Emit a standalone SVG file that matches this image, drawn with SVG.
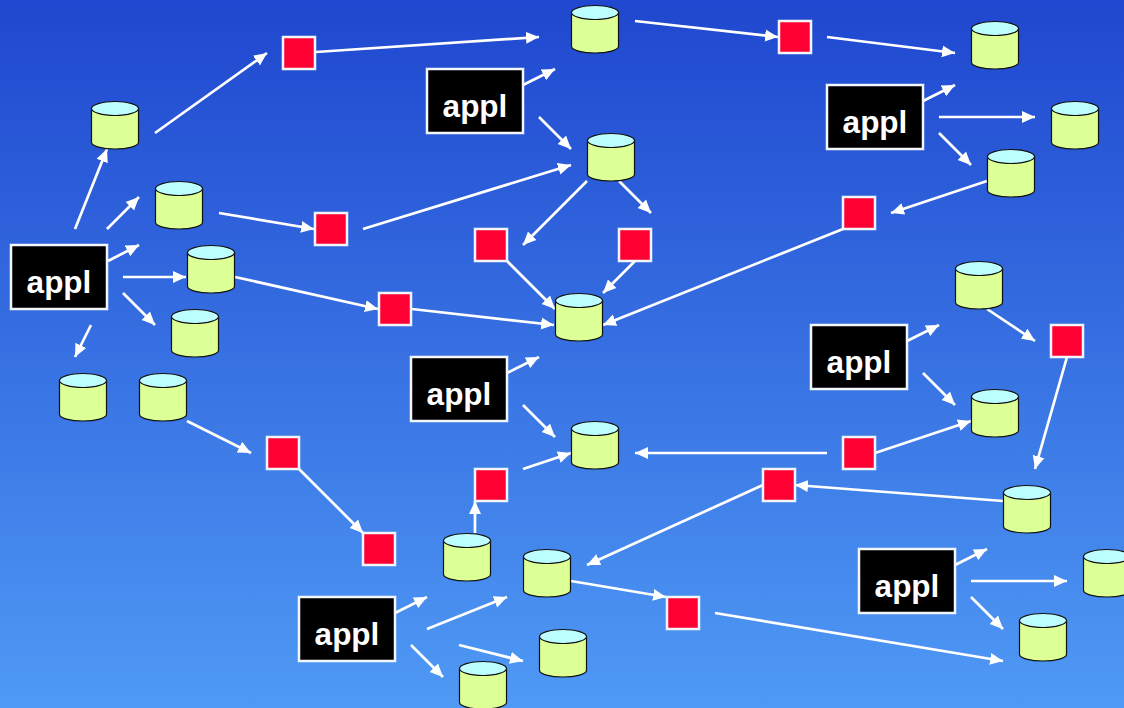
<svg xmlns="http://www.w3.org/2000/svg" width="1124" height="708" viewBox="0 0 1124 708">
<style>
.c line{stroke:#fff;stroke-width:2.7;marker-end:url(#a)}
.s{fill:#ff0033;stroke:#f4f6ff;stroke-width:2.5}
.b{fill:#000;stroke:#f4f6ff;stroke-width:2.5}
.t{fill:#fff;font:bold 31.500px "Liberation Sans",Arial,sans-serif;text-anchor:middle}
.cb{fill:#dcff96;stroke:#111;stroke-width:1.2}
.ct{fill:#bdffff;stroke:#111;stroke-width:1.2}
</style>
<defs>
<linearGradient id="g" x1="0" y1="0" x2="0" y2="1"><stop offset="0" stop-color="#1f47cf"/><stop offset="1" stop-color="#4f9af5"/></linearGradient>
<marker id="a" markerUnits="userSpaceOnUse" markerWidth="14" markerHeight="14" refX="13" refY="7" orient="auto"><path d="M0 1L13 7L0 13z" fill="#fff"/></marker>
<symbol id="cy" width="50" height="50" overflow="visible">
<path class="cb" d="M.5 7.500V41.500C.5 45 11 48 24 48S47.500 45 47.500 41.500V7.500z"/>
<ellipse class="ct" cx="24" cy="7.500" rx="23.500" ry="7"/>
</symbol>
</defs>
<rect width="1124" height="708" fill="url(#g)"/>
<g id="connectors" class="c">
<line x1="75" y1="229" x2="107" y2="149"/>
<line x1="107" y1="229" x2="139" y2="197"/>
<line x1="108" y1="261" x2="139" y2="245"/>
<line x1="123" y1="277" x2="186" y2="277"/>
<line x1="123" y1="293" x2="155" y2="325"/>
<line x1="91" y1="325" x2="75" y2="357"/>
<line x1="155" y1="133" x2="267" y2="53"/>
<line x1="316" y1="52" x2="539" y2="37"/>
<line x1="219" y1="213" x2="314" y2="229"/>
<line x1="363" y1="229" x2="571" y2="165"/>
<line x1="235" y1="277" x2="378" y2="309"/>
<line x1="412" y1="309" x2="554" y2="325"/>
<line x1="187" y1="421" x2="251" y2="453"/>
<line x1="299" y1="469" x2="363" y2="533"/>
<line x1="523" y1="85" x2="555" y2="69"/>
<line x1="539" y1="117" x2="571" y2="149"/>
<line x1="587" y1="181" x2="523" y2="245"/>
<line x1="619" y1="181" x2="651" y2="213"/>
<line x1="507" y1="261" x2="555" y2="309"/>
<line x1="635" y1="261" x2="603" y2="293"/>
<line x1="635" y1="21" x2="778" y2="37"/>
<line x1="827" y1="37" x2="955" y2="53"/>
<line x1="923" y1="101" x2="955" y2="85"/>
<line x1="939" y1="117" x2="1035" y2="117"/>
<line x1="939" y1="133" x2="971" y2="165"/>
<line x1="987" y1="181" x2="891" y2="213"/>
<line x1="843" y1="229" x2="603" y2="325"/>
<line x1="507" y1="373" x2="539" y2="357"/>
<line x1="523" y1="405" x2="555" y2="437"/>
<line x1="907" y1="341" x2="939" y2="325"/>
<line x1="923" y1="373" x2="955" y2="405"/>
<line x1="987" y1="309" x2="1035" y2="341"/>
<line x1="1067" y1="357" x2="1035" y2="469"/>
<line x1="875" y1="453" x2="971" y2="421"/>
<line x1="827" y1="453" x2="635" y2="453"/>
<line x1="1003" y1="501" x2="795" y2="485"/>
<line x1="763" y1="485" x2="587" y2="565"/>
<line x1="523" y1="469" x2="571" y2="453"/>
<line x1="475" y1="533" x2="475" y2="501"/>
<line x1="395" y1="613" x2="427" y2="597"/>
<line x1="427" y1="629" x2="507" y2="597"/>
<line x1="459" y1="645" x2="523" y2="661"/>
<line x1="411" y1="645" x2="443" y2="677"/>
<line x1="571" y1="581" x2="666" y2="597"/>
<line x1="715" y1="613" x2="1003" y2="661"/>
<line x1="955" y1="565" x2="987" y2="549"/>
<line x1="971" y1="581" x2="1067" y2="581"/>
<line x1="971" y1="597" x2="1003" y2="629"/>
</g>
<g id="db1"><use href="#cy" x="91" y="101"/></g>
<g id="db2"><use href="#cy" x="155" y="181"/></g>
<g id="db3"><use href="#cy" x="187" y="245"/></g>
<g id="db4"><use href="#cy" x="171" y="309"/></g>
<g id="db5"><use href="#cy" x="59" y="373"/></g>
<g id="db6"><use href="#cy" x="139" y="373"/></g>
<g id="db7"><use href="#cy" x="571" y="5"/></g>
<g id="db8"><use href="#cy" x="971" y="21"/></g>
<g id="db9"><use href="#cy" x="1051" y="101"/></g>
<g id="db10"><use href="#cy" x="987" y="149"/></g>
<g id="db11"><use href="#cy" x="587" y="133"/></g>
<g id="db12"><use href="#cy" x="555" y="293"/></g>
<g id="db13"><use href="#cy" x="955" y="261"/></g>
<g id="db14"><use href="#cy" x="971" y="389"/></g>
<g id="db15"><use href="#cy" x="571" y="421"/></g>
<g id="db16"><use href="#cy" x="1003" y="485"/></g>
<g id="db17"><use href="#cy" x="443" y="533"/></g>
<g id="db18"><use href="#cy" x="523" y="549"/></g>
<g id="db19"><use href="#cy" x="1083" y="549"/></g>
<g id="db20"><use href="#cy" x="1019" y="613"/></g>
<g id="db21"><use href="#cy" x="539" y="629"/></g>
<g id="db22"><use href="#cy" x="459" y="661"/></g>
<g id="r1"><rect class="s" x="283" y="37" width="32" height="32"/></g>
<g id="r2"><rect class="s" x="779" y="21" width="32" height="32"/></g>
<g id="r3"><rect class="s" x="315" y="213" width="32" height="32"/></g>
<g id="r4"><rect class="s" x="475" y="229" width="32" height="32"/></g>
<g id="r5"><rect class="s" x="619" y="229" width="32" height="32"/></g>
<g id="r6"><rect class="s" x="843" y="197" width="32" height="32"/></g>
<g id="r7"><rect class="s" x="379" y="293" width="32" height="32"/></g>
<g id="r8"><rect class="s" x="1051" y="325" width="32" height="32"/></g>
<g id="r9"><rect class="s" x="267" y="437" width="32" height="32"/></g>
<g id="r10"><rect class="s" x="843" y="437" width="32" height="32"/></g>
<g id="r11"><rect class="s" x="475" y="469" width="32" height="32"/></g>
<g id="r12"><rect class="s" x="763" y="469" width="32" height="32"/></g>
<g id="r13"><rect class="s" x="363" y="533" width="32" height="32"/></g>
<g id="r14"><rect class="s" x="667" y="597" width="32" height="32"/></g>
<g id="a1"><rect class="b" x="11" y="245" width="96" height="64"/><text class="t" x="59" y="293">appl</text></g>
<g id="a2"><rect class="b" x="427" y="69" width="96" height="64"/><text class="t" x="475" y="117">appl</text></g>
<g id="a3"><rect class="b" x="827" y="85" width="96" height="64"/><text class="t" x="875" y="133">appl</text></g>
<g id="a4"><rect class="b" x="811" y="325" width="96" height="64"/><text class="t" x="859" y="373">appl</text></g>
<g id="a5"><rect class="b" x="411" y="357" width="96" height="64"/><text class="t" x="459" y="405">appl</text></g>
<g id="a6"><rect class="b" x="859" y="549" width="96" height="64"/><text class="t" x="907" y="597">appl</text></g>
<g id="a7"><rect class="b" x="299" y="597" width="96" height="64"/><text class="t" x="347" y="645">appl</text></g>
</svg>
